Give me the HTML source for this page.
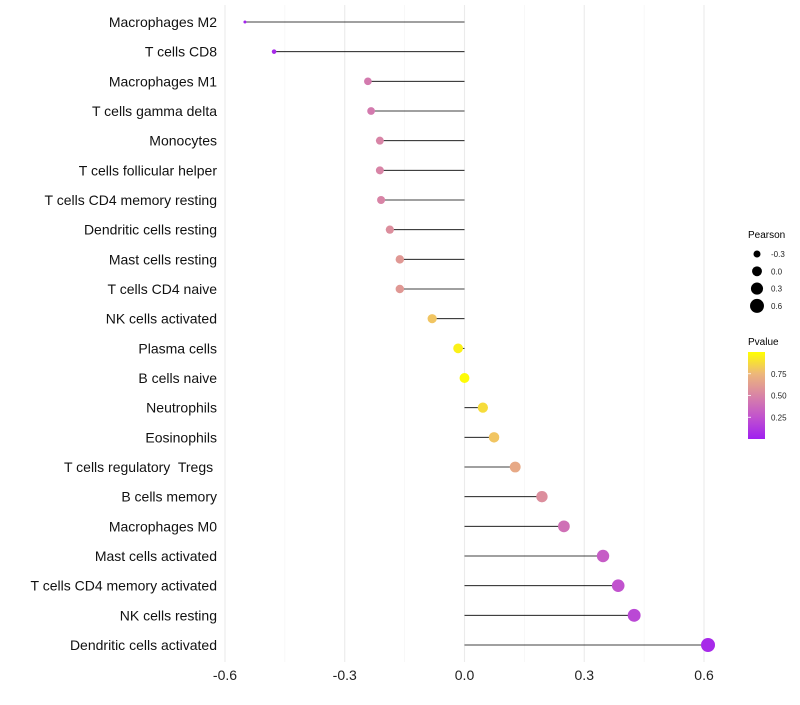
<!DOCTYPE html>
<html><head><meta charset="utf-8"><style>
body{margin:0;background:#fff;font-family:"Liberation Sans",sans-serif}
text{white-space:pre}
</style></head><body>
<svg id="chart" width="800" height="700" xmlns="http://www.w3.org/2000/svg" font-family="Liberation Sans, sans-serif">
<g id="grid"></g>
<g id="marks"></g>
<g id="ylabels"></g>
<g id="xlabels"></g>
<g id="legend">
<text x="748" y="238" font-size="10" fill="#000">Pearson</text>
<text x="748" y="345" font-size="10" fill="#000">Pvalue</text>
<defs><linearGradient id="pg" x1="0" y1="1" x2="0" y2="0">
<stop offset="0" stop-color="#A020F0"/><stop offset="0.25" stop-color="#C152CE"/><stop offset="0.5" stop-color="#D884A6"/><stop offset="0.75" stop-color="#EDB77A"/><stop offset="1" stop-color="#FFFF00"/></linearGradient></defs>
<rect x="748" y="352" width="17" height="87" fill="url(#pg)"/>
</g>
</svg>
<script>
const categories=["Macrophages M2","T cells CD8","Macrophages M1","T cells gamma delta","Monocytes","T cells follicular helper","T cells CD4 memory resting","Dendritic cells resting","Mast cells resting","T cells CD4 naive","NK cells activated","Plasma cells","B cells naive","Neutrophils","Eosinophils","T cells regulatory  Tregs ","B cells memory","Macrophages M0","Mast cells activated","T cells CD4 memory activated","NK cells resting","Dendritic cells activated"];
const pearson=[-0.55,-0.477,-0.242,-0.234,-0.212,-0.212,-0.209,-0.187,-0.162,-0.162,-0.081,-0.016,0.0,0.046,0.074,0.127,0.194,0.249,0.347,0.385,0.425,0.61];
const pvalue=[0.02,0.05,0.45,0.45,0.5,0.5,0.5,0.55,0.6,0.6,0.8,0.95,0.99,0.88,0.8,0.68,0.55,0.4,0.3,0.25,0.2,0.05];
const xTicks=[-0.6,-0.3,0,0.3,0.6];
const xTickLabels=["-0.6","-0.3","0.0","0.3","0.6"];
const legendVals=[-0.3,0,0.3,0.6];
const legendLabels=["-0.3","0.0","0.3","0.6"];
const pTicks=[0.25,0.5,0.75];
const pTickLabels=["0.25","0.50","0.75"];
const NS="http://www.w3.org/2000/svg";
const x=v=>464.5+v*399.2;
const y=i=>22+i*(623/21);
const vmin=Math.min(...pearson);
const r=v=>Math.sqrt(Math.max(2.25,2.25+40.3*(v-vmin)));
const stops=[[160,32,240],[193,82,206],[216,132,166],[237,183,122],[255,255,0]];
function col(p){p=Math.max(0,Math.min(1,p));const t=p*4,i=Math.min(3,Math.floor(t)),f=t-i;const a=stops[i],b=stops[i+1];return "rgb("+a.map((c,k)=>Math.round(c+(b[k]-c)*f)).join(",")+")";}
function mk(tag,attrs,parent){const e=document.createElementNS(NS,tag);for(const k in attrs)e.setAttribute(k,attrs[k]);parent.appendChild(e);return e;}
const grid=document.getElementById('grid'),marks=document.getElementById('marks'),yl=document.getElementById('ylabels'),xl=document.getElementById('xlabels'),lg=document.getElementById('legend');
for(let k=0;k<xTicks.length;k++){
 const l=mk('line',{x1:x(xTicks[k]),x2:x(xTicks[k]),y1:5,y2:662,stroke:'#ebebeb','stroke-width':1.1},grid);
 
 
 if(k<xTicks.length-1){const m=(xTicks[k]+xTicks[k+1])/2;
 const l2=mk('line',{x1:x(m),x2:x(m),y1:5,y2:662,stroke:'#f3f3f3','stroke-width':0.6},grid);
 
 }
 const t=mk('text',{x:x(xTicks[k]),y:680,'font-size':14,'text-anchor':'middle',fill:'#222'},xl);
 t.textContent=xTickLabels[k];
 
 
}
categories.forEach((c,i)=>{
 const ln=mk('line',{x1:x(0),x2:x(pearson[i]),y1:y(i),y2:y(i),stroke:'#000','stroke-width':0.8},marks);
 
 
 const ci=mk('circle',{cx:x(pearson[i]),cy:y(i),r:r(pearson[i]),fill:col(pvalue[i])},marks);
 
 
 const t=mk('text',{x:217,y:y(i)+5,'font-size':14,'text-anchor':'end',fill:'#111','xml:space':'preserve'},yl);
 t.textContent=c;
 
 
});
legendVals.forEach((v,k)=>{
 const cy=254+k*17.3;
 const c=mk('circle',{cx:757,cy:cy,r:r(v),fill:'#000'},lg);
 
 
 const t=mk('text',{x:771,y:cy+3,'font-size':8,fill:'#222'},lg);
 t.textContent=legendLabels[k];
 
 
});
pTicks.forEach((p,k)=>{
 const yy=439-p*87;
 const t=mk('text',{x:771,y:yy+3,'font-size':8,fill:'#222'},lg);
 t.textContent=pTickLabels[k];
 
 
 const tk=mk('line',{x1:748,x2:751,y1:yy,y2:yy,stroke:'#fff','stroke-width':0.8},lg);
 
 
});
</script>
</body></html>
